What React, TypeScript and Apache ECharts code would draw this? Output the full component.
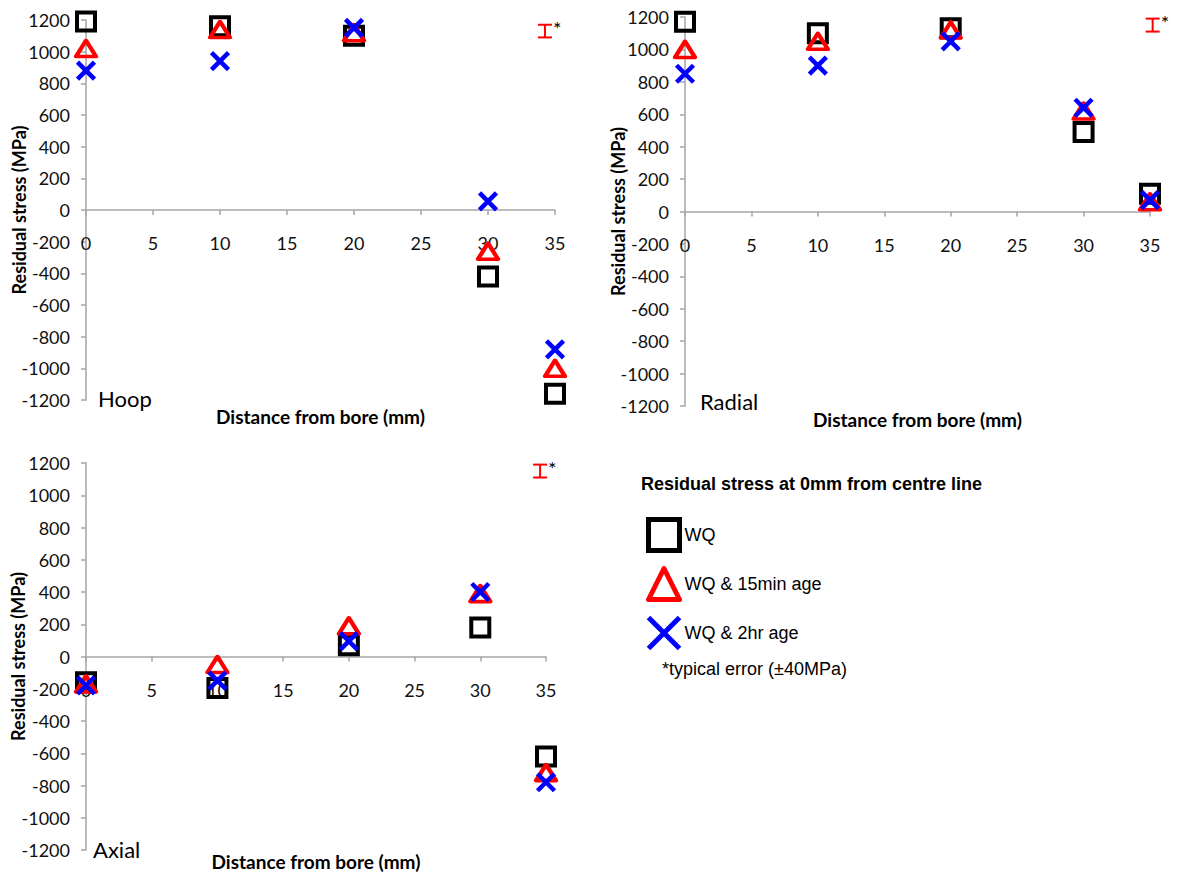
import React, { useEffect, useRef } from "react";
import * as echarts from "echarts";

// Distances from bore (mm) at which stresses were measured
const distances = [0, 10, 20, 30, 35];

// Series names (legend)
const seriesNames = ["WQ", "WQ & 15min age", "WQ & 2hr age"];
const panelNames = ["Hoop", "Radial", "Axial"];

// Hoop residual stress (MPa)
const hoopWQ = [1190, 1160, 1100, -420, -1160];
const hoopWQ15 = [1020, 1140, 1120, -260, -1000];
const hoopWQ2h = [880, 940, 1150, 55, -880];

// Radial residual stress (MPa)
const radialWQ = [1170, 1100, 1130, 490, 110];
const radialWQ15 = [1000, 1050, 1120, 620, 60];
const radialWQ2h = [850, 900, 1050, 640, 70];

// Axial residual stress (MPa)
const axialWQ = [-160, -195, 70, 180, -620];
const axialWQ15 = [-170, -50, 190, 390, -720];
const axialWQ2h = [-180, -150, 95, 400, -780];

// Typical error bar markers: [x, centre value, ± error]
const hoopError = [34.25, 1130, 40];
const radialError = [35.2, 1150, 40];
const axialError = [34.55, 1150, 40];

const errorNote = "*typical error (±40MPa)";
const legendTitle = "Residual stress at 0mm from centre line";

export default function App() {
  const ref = useRef<HTMLDivElement>(null);

  useEffect(() => {
    const chart = echarts.init(ref.current as HTMLDivElement, null, { renderer: "svg" });

    const grids = [
      { left: 86, top: 20, width: 469, height: 380 },
      { left: 685, top: 17, width: 465, height: 389 },
      { left: 86, top: 463, width: 460, height: 387 },
    ];
    const xNameGaps = [197, 198, 195];
    const yNameGaps = [58, 58, 59];
    const axisColor = "#a6a6a6";
    const tickFont = "Lato";
    const fmt = (v: number) => String(v);

    const xAxes = grids.map((g, i) => ({
      type: "value",
      gridIndex: i,
      min: 0,
      max: 35,
      interval: 5,
      position: "bottom",
      // move the axis up from the grid bottom onto the zero line (symmetric y range)
      offset: -g.height / 2,
      name: "Distance from bore (mm)",
      nameLocation: "middle",
      nameGap: xNameGaps[i],
      nameMoveOverlap: false,
      nameTextStyle: { fontFamily: tickFont, fontWeight: "bold", fontSize: 19, color: "#000" },
      axisLine: { onZero: false, lineStyle: { color: axisColor, width: 1.5 } },
      axisTick: { show: true, length: 5, lineStyle: { color: axisColor, width: 1.5 } },
      axisLabel: { margin: 24, fontFamily: tickFont, fontSize: 18, color: "#111", formatter: fmt },
      splitLine: { show: false },
    }));

    const yAxes = grids.map((_, i) => ({
      type: "value",
      gridIndex: i,
      min: -1200,
      max: 1200,
      interval: 200,
      position: "left",
      name: "Residual stress (MPa)",
      nameLocation: "middle",
      nameGap: yNameGaps[i],
      nameMoveOverlap: false,
      nameTextStyle: {
        fontFamily: tickFont,
        fontWeight: "bold",
        fontSize: 18,
        color: "#000",
      },
      axisLine: { onZero: false, lineStyle: { color: axisColor, width: 1.5 } },
      axisTick: { show: true, length: 5, lineStyle: { color: axisColor, width: 1.5 } },
      axisLabel: { margin: 16, fontFamily: tickFont, fontSize: 18, color: "#111", formatter: fmt },
      splitLine: { show: false },
    }));

    const panels = [
      [hoopWQ, hoopWQ15, hoopWQ2h],
      [radialWQ, radialWQ15, radialWQ2h],
      [axialWQ, axialWQ15, axialWQ2h],
    ];
    const errors = [hoopError, radialError, axialError];

    const markerStyles = [
      {
        symbol: "rect",
        symbolSize: 18,
        itemStyle: { color: "rgba(255,255,255,0)", borderColor: "#000000", borderWidth: 4, opacity: 1 },
      },
      {
        symbol: "triangle",
        symbolSize: [20, 16],
        itemStyle: {
          color: "rgba(255,255,255,0)",
          borderColor: "#ff0000",
          borderWidth: 4,
          borderJoin: "round",
          opacity: 1,
        },
      },
      {
        symbol: "path://M0,0L10,10M10,0L0,10",
        symbolSize: 17,
        itemStyle: { color: "rgba(255,255,255,0)", borderColor: "#0000ff", borderWidth: 4.5, opacity: 1 },
      },
    ];

    const series: any[] = [];
    panels.forEach((panel, gi) => {
      panel.forEach((vals, si) => {
        series.push({
          type: "scatter",
          name: seriesNames[si],
          xAxisIndex: gi,
          yAxisIndex: gi,
          data: distances.map((d, k) => [d, vals[k]]),
          symbol: markerStyles[si].symbol,
          symbolSize: markerStyles[si].symbolSize,
          itemStyle: markerStyles[si].itemStyle,
          emphasis: { disabled: true },
          clip: false,
          z: 3 + si,
        });
      });
    });

    const errRender = (_params: any, api: any) => {
      const x = api.value(0);
      const y = api.value(1);
      const e = api.value(2);
      const top = api.coord([x, y + e]);
      const bot = api.coord([x, y - e]);
      const hw = 7;
      const st = { stroke: "#ff0000", lineWidth: 2 };
      return {
        type: "group",
        children: [
          { type: "line", shape: { x1: top[0], y1: top[1], x2: bot[0], y2: bot[1] }, style: st },
          { type: "line", shape: { x1: top[0] - hw, y1: top[1], x2: top[0] + hw, y2: top[1] }, style: st },
          { type: "line", shape: { x1: bot[0] - hw, y1: bot[1], x2: bot[0] + hw, y2: bot[1] }, style: st },
          {
            type: "text",
            x: top[0] + hw + 1,
            y: top[1] - 7,
            style: {
              text: "*",
              fill: "#000",
              fontSize: 20,
              fontFamily: tickFont,
              align: "left",
              verticalAlign: "top",
            },
          },
        ],
      };
    };

    errors.forEach((err, gi) => {
      series.push({
        type: "custom",
        name: "typical error",
        xAxisIndex: gi,
        yAxisIndex: gi,
        clip: false,
        renderItem: errRender,
        data: [err],
        z: 10,
      });
    });

    const panelLabelPos = [
      { x: 98, y: 400 },
      { x: 700, y: 403 },
      { x: 93, y: 851 },
    ];

    const graphics: any[] = panelNames.map((name, i) => ({
      type: "text",
      left: panelLabelPos[i].x,
      top: panelLabelPos[i].y - 13,
      style: { text: name, fill: "#000", fontSize: 22, fontFamily: tickFont },
    }));
    graphics.push({
      type: "text",
      left: 641,
      top: 475,
      style: {
        text: legendTitle,
        fill: "#000",
        fontSize: 18,
        fontWeight: "bold",
        fontFamily: "Liberation Sans",
      },
    });
    graphics.push({
      type: "text",
      left: 662,
      top: 660,
      style: { text: errorNote, fill: "#000", fontSize: 18, fontFamily: "Liberation Sans" },
    });

    chart.setOption({
      animation: false,
      backgroundColor: "#ffffff",
      grid: grids.map((g) => ({ ...g, containLabel: false, outerBoundsMode: "none" })),
      xAxis: xAxes,
      yAxis: yAxes,
      legend: {
        data: seriesNames,
        orient: "vertical",
        left: 646,
        top: 517,
        itemWidth: 31,
        itemHeight: 31,
        itemGap: 13,
        padding: 0,
        textStyle: { fontFamily: "Liberation Sans", fontSize: 18, color: "#000" },
        itemStyle: { borderWidth: 5, opacity: 1 },
      },
      graphic: graphics,
      series,
    } as any);

    return () => {
      chart.dispose();
    };
  }, []);

  return (
    <div
      ref={ref}
      style={{ position: "absolute", left: 0, top: 0, width: 1181, height: 878, background: "#fff" }}
    />
  );
}
